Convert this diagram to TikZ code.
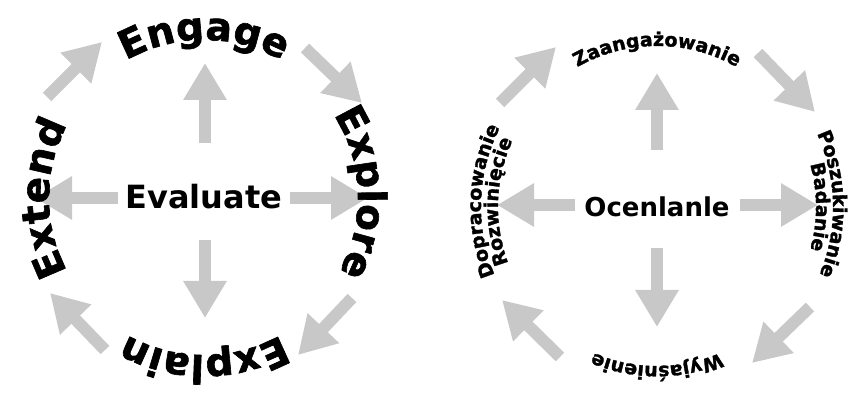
\documentclass[tikz,border=0pt]{standalone}
\usepackage{fontspec}
\setmainfont{DejaVu Sans}
\newfontfamily\heavyfont{DejaVu Sans}[FakeBold=1.6]
\usetikzlibrary{arrows.meta,decorations.text,calc}
\definecolor{arrowgray}{RGB}{200,200,200}
\newcommand\bigarc{\fontsize{39}{44}\heavyfont\bfseries}
\newcommand\smallarc{\fontsize{19}{22}\heavyfont\bfseries}
\begin{document}
\begin{tikzpicture}[x=1pt, y=1pt, line join=round,
  bigarrow/.style={draw=arrowgray, line width=12pt, -{Triangle[width=41pt,length=37pt]}},
  arctext/.style={decorate, decoration={text along path, text align=center, text={#1}}},
  hub/.style={inner sep=0pt}]
\useasboundingbox (0,0) rectangle (862,399);
% Srodki obu cykli
\coordinate (L) at (204,201);
\coordinate (R) at (657,192);
% ---- cykl angielski ----
\node[hub, font=\fontsize{32}{36}\selectfont\bfseries] (eval) at (204,202) {Evaluate};
% strzalki od srodka
\foreach \nm/\pa/\pb in {up/{205,256}/{205,336}, dn/{205,159}/{205,81},
                         lt/{118,201}/{35,201}, rt/{290,201}/{368,201}}{
  \coordinate (L-\nm-a) at (\pa);
  \coordinate (L-\nm-b) at (\pb);
  \draw[bigarrow] (L-\nm-a) -- (L-\nm-b);
}
% strzalki po obwodzie
\foreach \nm/\pa/\pb in {ne/{47,302}/{102,357}, se/{305,351}/{362,296},
                         sw/{352,101}/{298,44}, nw/{105,49}/{50,106}}{
  \coordinate (L-\nm-a) at (\pa);
  \coordinate (L-\nm-b) at (\pb);
  \draw[bigarrow] (L-\nm-a) -- (L-\nm-b);
}
% napisy na luku
\path[arctext={|\bigarc|Engage}]  ($(L)+(150:158pt)$) arc[start angle=150, end angle=30, radius=158pt];
\path[arctext={|\bigarc|Explore}] ($(L)+(62:154pt)$) arc[start angle=62, end angle=-58, radius=154pt];
\path[arctext={|\bigarc|Explain}] ($(L)+(-30:157pt)$) arc[start angle=-30, end angle=-150, radius=157pt];
\path[arctext={|\bigarc|Extend}]  ($(L)+(240:155pt)$) arc[start angle=240, end angle=120, radius=155pt];
% ---- cykl polski ----
\node[hub, font=\fontsize{26}{30}\selectfont\bfseries] (ocen) at (657,192) {Ocenlanle};
\foreach \nm/\pa/\pb in {up/{657,249}/{657,326}, dn/{657,151}/{657,72},
                         lt/{575,194}/{497,194}, rt/{740,194}/{818,194}}{
  \coordinate (R-\nm-a) at (\pa);
  \coordinate (R-\nm-b) at (\pb);
  \draw[bigarrow] (R-\nm-a) -- (R-\nm-b);
}
\foreach \nm/\pa/\pb in {ne/{500,296}/{556,352}, se/{758,346}/{815,287},
                         sw/{810,92}/{752,36}, nw/{560,42}/{502,99}}{
  \coordinate (R-\nm-a) at (\pa);
  \coordinate (R-\nm-b) at (\pb);
  \draw[bigarrow] (R-\nm-a) -- (R-\nm-b);
}
\path[arctext={|\smallarc|Zaangażowanie}] ($(R)+(150:161pt)$) arc[start angle=150, end angle=30, radius=161pt];
\path[arctext={|\smallarc|Poszukiwanie}]  ($(R)+(61:176pt)$) arc[start angle=61, end angle=-59, radius=176pt];
\path[arctext={|\smallarc|Badanie}]       ($(R)+(60:159pt)$) arc[start angle=60, end angle=-60, radius=159pt];
\path[arctext={|\smallarc|Wyjaśnienie}]   ($(R)+(-30:159pt)$) arc[start angle=-30, end angle=-150, radius=159pt];
\path[arctext={|\smallarc|Dopracowanie}]  ($(R)+(238:176pt)$) arc[start angle=238, end angle=118, radius=176pt];
\path[arctext={|\smallarc|Rozwinięcie}]   ($(R)+(238:159pt)$) arc[start angle=238, end angle=118, radius=159pt];
\end{tikzpicture}
\end{document}
